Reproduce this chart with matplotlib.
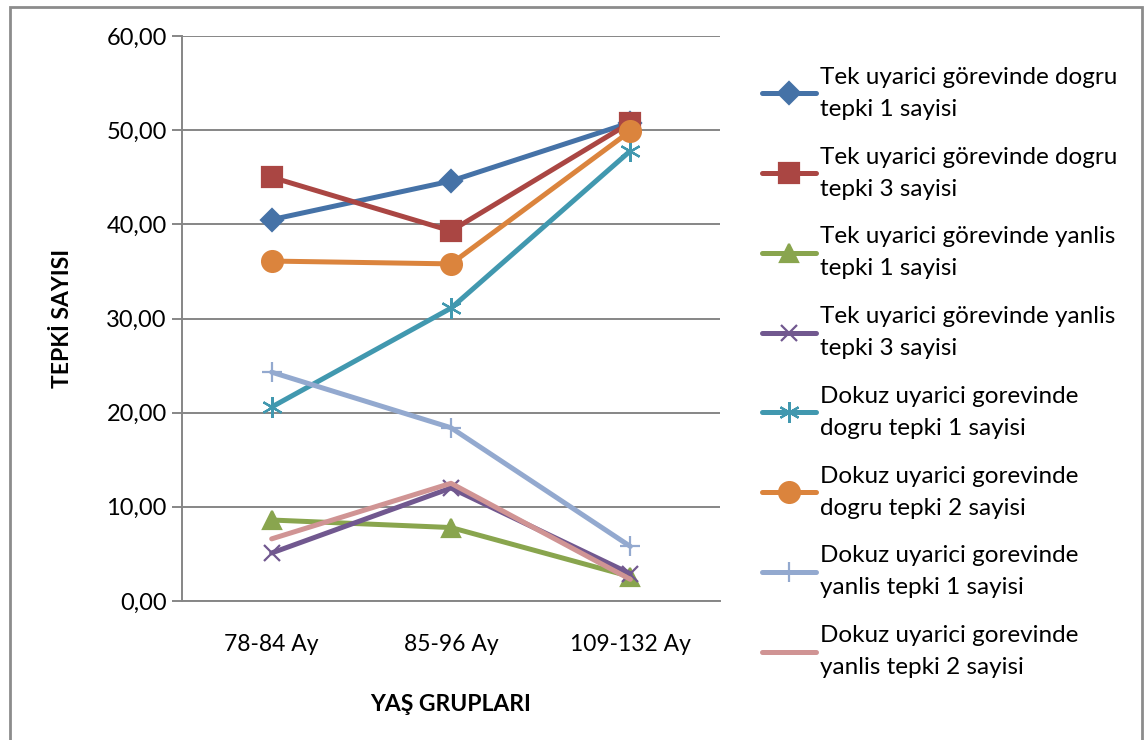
import matplotlib
matplotlib.use("Agg")
import matplotlib.pyplot as plt
from matplotlib.patches import Rectangle
from matplotlib.ticker import FuncFormatter

plt.rcParams["font.family"] = ["Lato", "DejaVu Sans"]

groups = ["78-84 Ay", "85-96 Ay", "109-132 Ay"]
labels = [
    "Tek uyarici görevinde dogru\ntepki 1 sayisi",
    "Tek uyarici görevinde dogru\ntepki 3 sayisi",
    "Tek uyarici görevinde yanlis\ntepki 1 sayisi",
    "Tek uyarici görevinde yanlis\ntepki 3 sayisi",
    "Dokuz uyarici gorevinde\ndogru tepki 1 sayisi",
    "Dokuz uyarici gorevinde\ndogru tepki 2 sayisi",
    "Dokuz uyarici gorevinde\nyanlis tepki 1 sayisi",
    "Dokuz uyarici gorevinde\nyanlis tepki 2 sayisi",
]
tek_dogru_1 = [40.5, 44.6, 50.8]
tek_dogru_3 = [45.0, 39.3, 50.8]
tek_yanlis_1 = [8.6, 7.8, 2.6]
tek_yanlis_3 = [5.1, 12.0, 2.9]
dokuz_dogru_1 = [20.6, 31.1, 47.8]
dokuz_dogru_2 = [36.1, 35.8, 49.9]
dokuz_yanlis_1 = [24.3, 18.4, 5.8]
dokuz_yanlis_2 = [6.6, 12.5, 2.3]
series = [tek_dogru_1, tek_dogru_3, tek_yanlis_1, tek_yanlis_3,
          dokuz_dogru_1, dokuz_dogru_2, dokuz_yanlis_1, dokuz_yanlis_2]

# Excel 2007 style colours and markers
colors = ["#4572A7", "#AA4643", "#89A54E", "#71588F",
          "#4198AF", "#DB843D", "#93A9CF", "#D09494"]
markers = ["D", "s", "^", "x", (6, 2, 0), "o", "+", None]
msizes = [11, 14, 13, 12, 15, 15, 15, 0]

fig = plt.figure(figsize=(11.44, 7.4), dpi=100)
ax = fig.add_axes([182 / 1144, 1 - 601 / 740, 538 / 1144, 565 / 740])

x = list(range(len(groups)))
for vals, lab, c, m, ms in zip(series, labels, colors, markers, msizes):
    ax.plot(x, vals, color=c, lw=3.6, marker=m, ms=ms, mew=1.6,
            mec=c, mfc=c, label=lab, solid_capstyle="round")

ax.set_xlim(-0.5, 2.5)
ax.set_ylim(0, 60)
ax.set_yticks(range(0, 61, 10))
ax.yaxis.set_major_formatter(FuncFormatter(lambda v, p: f"{v:.2f}".replace(".", ",")))
ax.set_xticks(x)
ax.set_xticklabels(groups)
ax.grid(axis="y", color="#868686", lw=1.4)
ax.set_axisbelow(True)
for side in ("top", "right"):
    ax.spines[side].set_visible(False)
for side in ("left", "bottom"):
    ax.spines[side].set_color("#868686")
    ax.spines[side].set_linewidth(1.4)
ax.tick_params(axis="y", length=7, width=1.4, color="#868686", labelsize=17, pad=4)
ax.tick_params(axis="x", length=0, labelsize=16.5, pad=24)

ax.set_ylabel("TEPKİ SAYISI", fontsize=16.5, fontweight="bold", labelpad=24)
ax.set_xlabel("YAŞ GRUPLARI", fontsize=16.5, fontweight="bold", labelpad=28)

leg = fig.legend(loc="upper left", bbox_to_anchor=(752 / 1144, 1 - 57 / 740),
                 frameon=False, fontsize=17.5, handlelength=2.25, handletextpad=0.15,
                 labelspacing=1.1, borderaxespad=0)
for t in leg.get_texts():
    t.set_linespacing(1.65)

fig.patches.append(Rectangle((10 / 1144, -0.05), 1132 / 1144, 1.05 - 7 / 740,
                             transform=fig.transFigure, fill=False,
                             edgecolor="#8C8C8C", lw=2))

fig.savefig("out.png", dpi=100)
